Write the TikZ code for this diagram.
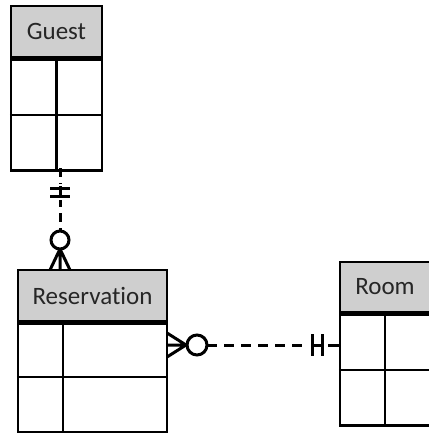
\documentclass[tikz,border=0pt]{standalone}
\usepackage{fontspec}
\setmainfont{Carlito}[Ligatures={NoCommon}]
\begin{document}
\begin{tikzpicture}[x=1pt,y=-1pt,line width=2.4pt,draw=black,
  hdr/.style={draw=black,fill=black!19,inner sep=0pt,text=black!85,font=\fontsize{25}{28}\selectfont},
  cell/.style={draw=black,inner sep=0pt},
  rel/.style={line width=3pt,dash pattern=on 10pt off 7pt},
  sym/.style={line width=3pt}]
\useasboundingbox (0,0) rectangle (428,433);
% Guest
\node[hdr,minimum width=91pt,minimum height=51pt] (gh) at (56.5,31.5) {Guest};
\node[cell,minimum width=91pt,minimum height=111pt,anchor=north] (gb) at (gh.south) {};
\draw (gb.north) -- (gb.south);
\draw (gb.west) -- (gb.east);
% Reservation
\node[hdr,minimum width=149pt,minimum height=51pt] (rh) at (92.5,295.5) {Reservation};
\node[cell,minimum width=149pt,minimum height=109pt,anchor=north] (rb) at (rh.south) {};
\draw ([xshift=-29.5pt]rb.north) -- ([xshift=-29.5pt]rb.south);
\draw ([yshift=1pt]rb.west) -- ([yshift=1pt]rb.east);
% Room
\node[hdr,minimum width=90pt,minimum height=50pt] (mh) at (385,287) {Room};
\node[cell,minimum width=90pt,minimum height=111pt,anchor=north] (mb) at (mh.south) {};
\draw (mb.north) -- (mb.south);
\draw (mb.west) -- (mb.east);
% connector Guest - Reservation
\coordinate (g1) at (60,168);
\coordinate (r1) at (60,270);
\coordinate (gc) at (60,240);
\draw[rel,dash pattern=on 9pt off 6pt] (g1) -- (60,231);
\draw[sym,draw=white,line width=6pt] (60,184) -- (60,200);
\draw[sym] (50,188) -- (70,188) (50,196) -- (70,196) (60,186) -- (60,198);
\draw[sym,fill=white] (gc) circle (9);
\draw[sym] (60,249) -- (50,270) (60,249) -- (60,270) (60,249) -- (70,270);
% connector Reservation - Room
\coordinate (r2) at (167,345);
\coordinate (m1) at (340,345);
\coordinate (rc) at (197,345);
\draw[sym] (167,333) -- (186,345) -- (167,357) (167,345) -- (186,345);
\draw[sym] (rc) circle (10);
\draw[rel] (207,345) -- (308,345);
\draw[sym] (312,334) -- (312,356) (322,334) -- (322,356) (312,345) -- (322,345);
\draw[sym] (328,345) -- (m1);
\end{tikzpicture}
\end{document}
